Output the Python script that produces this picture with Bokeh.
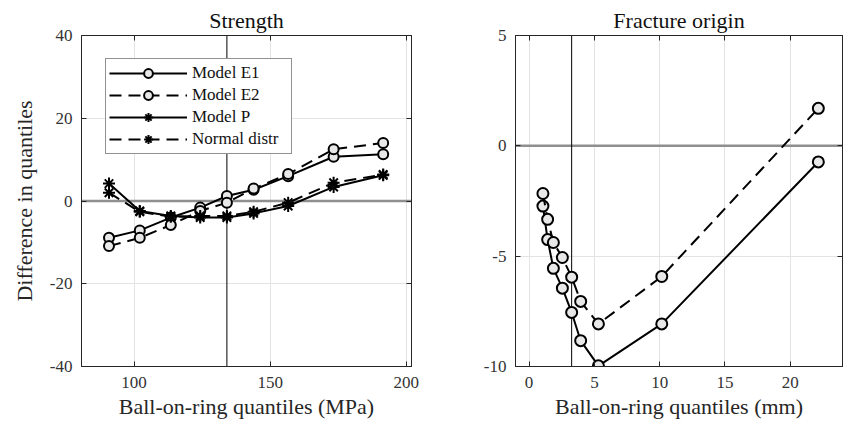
from bokeh.plotting import figure
from bokeh.models import Span, LinearAxis, FixedTicker, Range1d
from bokeh.layouts import row
from bokeh.embed import file_html
from bokeh.resources import INLINE

# ---- Strength panel data ----
str_x = [90.8, 102.1, 113.5, 124.3, 134.1, 143.9, 156.6, 173.3, 191.5]
str_e1 = [-8.9, -7.1, -4.0, -1.6, 1.2, 2.7, 6.0, 10.7, 11.3]
str_e2 = [-10.9, -8.9, -5.8, -2.4, -0.4, 3.0, 6.5, 12.5, 14.0]
str_p = [4.2, -2.4, -3.6, -4.0, -4.0, -3.0, -1.2, 3.4, 6.2]
str_n = [2.0, -2.6, -3.8, -3.6, -3.6, -2.6, -0.4, 4.4, 6.4]
str_xticks = [100, 150, 200]
str_yticks = [-40, -20, 0, 20, 40]

# ---- Fracture origin panel data ----
fo_x = [1.06, 1.42, 1.86, 2.55, 3.26, 3.95, 5.31, 10.16, 22.15]
fo_e1 = [-2.73, -4.25, -5.55, -6.45, -7.55, -8.83, -9.97, -8.07, -0.73]
fo_e2 = [-2.16, -3.33, -4.38, -5.06, -5.95, -7.05, -8.07, -5.92, 1.70]
fo_xticks = [0, 5, 10, 15, 20]
fo_yticks = [-10, -5, 0, 5]

FONT = "Liberation Serif"
AX = "#262626"
TXT = "#333333"
DASH = "12 7"
MFILL = "#e8e8e8"


def make_fig(title, xr, yr, xticks, yticks, xlabel, ylabel, width, mbl, mbr):
    p = figure(width=width, height=428, x_range=Range1d(*xr), y_range=Range1d(*yr),
               output_backend="svg", toolbar_location=None,
               min_border_left=mbl, min_border_right=mbr,
               min_border_top=35, min_border_bottom=62)
    p.title.text = title
    p.title.align = "center"
    p.title.text_font = FONT
    p.title.text_font_size = "22px"
    p.title.text_font_style = "normal"
    p.title.text_color = "#111111"
    p.title.standoff = 6
    p.outline_line_color = AX
    p.outline_line_width = 1
    p.outline_line_alpha = 1
    for ax, ticks in ((p.xaxis[0], xticks), (p.yaxis[0], yticks)):
        ax.ticker = FixedTicker(ticks=ticks)
        ax.major_label_overrides = {t: str(t) for t in ticks}
        ax.major_tick_in = 5
        ax.major_tick_out = 0
        ax.minor_tick_line_color = None
        ax.axis_line_color = AX
        ax.major_tick_line_color = AX
        ax.major_label_text_font = FONT
        ax.major_label_text_font_size = "17px"
        ax.major_label_text_color = TXT
        ax.axis_label_text_font = FONT
        ax.axis_label_text_font_size = "22px"
        ax.axis_label_text_font_style = "normal"
        ax.axis_label_text_color = AX
    p.xaxis[0].major_label_standoff = 10
    p.yaxis[0].major_label_standoff = 9
    p.xaxis[0].axis_label = xlabel
    p.xaxis[0].axis_label_standoff = 3
    if ylabel:
        p.yaxis[0].axis_label = ylabel
        p.yaxis[0].axis_label_standoff = 10
    # mirrored ticks on top and right (no labels)
    for loc, ticks in (("above", xticks), ("right", yticks)):
        a = LinearAxis(ticker=FixedTicker(ticks=ticks), major_tick_in=5, major_tick_out=0,
                       minor_tick_line_color=None, axis_line_color=AX,
                       major_tick_line_color=AX, major_label_text_font_size="1px",
                       major_label_text_color=None, major_label_standoff=0)
        p.add_layout(a, loc)
    p.xgrid[0].ticker = FixedTicker(ticks=xticks)
    p.ygrid[0].ticker = FixedTicker(ticks=yticks)
    p.grid.grid_line_color = "#e3e3e3"
    p.grid.grid_line_width = 1
    return p


# ---------------- left panel ----------------
p1 = make_fig("Strength", (80.7, 201.9), (-40, 40), str_xticks, str_yticks,
              "Ball-on-ring quantiles (MPa)", "Difference in quantiles", 430, 81, 19)
p1.add_layout(Span(location=0, dimension="width", line_color="#8f8f8f",
                   line_width=2.5, level="underlay"))
p1.add_layout(Span(location=str_x[4], dimension="height", line_color="#000000",
                   line_width=1, level="underlay"))

series = [
    (str_e1, "Model E1", "circle", "solid"),
    (str_e2, "Model E2", "circle", DASH),
    (str_p, "Model P", "asterisk", "solid"),
    (str_n, "Normal distr", "asterisk", DASH),
]
for ys, lab, mk, dash in series:
    p1.line(str_x, ys, line_color="black", line_width=2, line_dash=dash, legend_label=lab)
    if mk == "circle":
        p1.scatter(str_x, ys, marker="circle", size=10, fill_color=MFILL,
                   line_color="black", line_width=2, legend_label=lab)
    else:
        p1.scatter(str_x, ys, marker="asterisk", size=12,
                   line_color="black", line_width=2, legend_label=lab)

lg = p1.legend[0]
lg.location = (24, 212)
lg.margin = 0
lg.padding = 3
lg.spacing = 0
lg.glyph_width = 78
lg.glyph_height = 22
lg.label_height = 20
lg.label_width = 96
lg.label_standoff = 5
lg.label_text_font = FONT
lg.label_text_font_size = "17px"
lg.label_text_color = "#111111"
lg.border_line_color = AX
lg.border_line_width = 1
lg.background_fill_alpha = 1

# ---------------- right panel ----------------
p2 = make_fig("Fracture origin", (-1.04, 24.0), (-10, 5), fo_xticks, fo_yticks,
              "Ball-on-ring quantiles (mm)", None, 416, 85, 4)
p2.add_layout(Span(location=0, dimension="width", line_color="#8f8f8f",
                   line_width=2.5, level="underlay"))
p2.add_layout(Span(location=fo_x[4], dimension="height", line_color="#000000",
                   line_width=1, level="underlay"))
for ys, dash in ((fo_e1, "solid"), (fo_e2, DASH)):
    p2.line(fo_x, ys, line_color="black", line_width=2, line_dash=dash)
    p2.scatter(fo_x, ys, marker="circle", size=11, fill_color=MFILL,
               line_color="black", line_width=2)

layout = row(p1, p2, spacing=0)
open("out.html", "w").write(file_html(layout, INLINE))
